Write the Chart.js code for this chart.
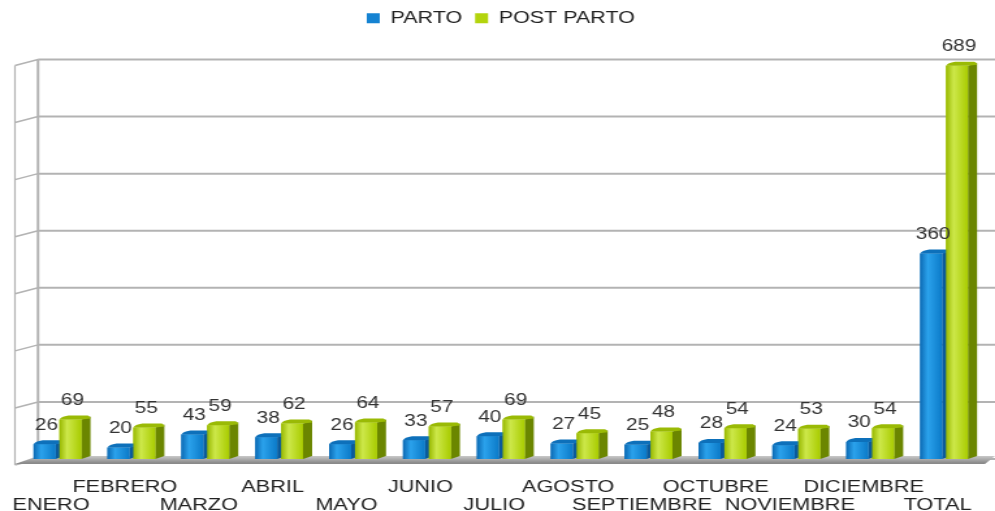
<!DOCTYPE html>
<html lang="es">
<head>
  <meta charset="UTF-8">
  <title>Parto y Post Parto</title>
  <script src="https://cdn.jsdelivr.net/npm/chart.js"></script>
  <style>
    html, body { margin: 0; padding: 0; background: #ffffff; overflow: hidden; }
    /* el original esta estirado a lo ancho: se dibuja a 765px y se estira a 995px */
    #wrap { width: 765px; height: 511px; transform: scaleX(1.3007); transform-origin: 0 0; }
  </style>
</head>
<body>
  <div id="wrap"><canvas id="myChart" width="765" height="511"></canvas></div>

  <script>
    var meses = ['ENERO', 'FEBRERO', 'MARZO', 'ABRIL', 'MAYO', 'JUNIO', 'JULIO',
                 'AGOSTO', 'SEPTIEMBRE', 'OCTUBRE', 'NOVIEMBRE', 'DICIEMBRE', 'TOTAL'];
    var parto = [26, 20, 43, 38, 26, 33, 40, 27, 25, 28, 24, 30, 360];
    var postParto = [69, 55, 59, 62, 64, 57, 69, 45, 48, 54, 53, 54, 689];
    var lineasY = [0, 100, 200, 300, 400, 500, 600, 700];

    var fuente = "'Liberation Sans', Arial, sans-serif";

    // colores de cada serie: frente (degradado), lado y tapa
    var estilos = [
      { stops: ['#0b69b3', '#2ba2ec', '#0b7ac8'], lado: '#0a5a9b', tapa: '#0d70ba' },
      { stops: ['#98b800', '#cde84a', '#a9cc00'], lado: '#6b8600', tapa: '#9aba05' }
    ];
    var prof = 7, alto3d = 3;

    // pared izquierda, rejilla y suelo
    var fondo3d = {
      id: 'fondo3d',
      beforeDatasetsDraw: function(chart) {
        var ctx = chart.ctx, y = chart.scales.y, area = chart.chartArea;
        var gx = area.left + 13.4, wx = area.left - 4.3;
        var base = y.getPixelForValue(0), top = y.getPixelForValue(700);
        ctx.save();
        ctx.strokeStyle = '#b3b3b3';
        lineasY.forEach(function(v) {
          var py = y.getPixelForValue(v);
          ctx.lineWidth = 2;
          ctx.beginPath(); ctx.moveTo(gx, py); ctx.lineTo(chart.width, py); ctx.stroke();
          ctx.lineWidth = 1.5;
          ctx.beginPath(); ctx.moveTo(gx, py); ctx.lineTo(wx, py + 6); ctx.stroke();
        });
        ctx.lineWidth = 2;
        ctx.beginPath(); ctx.moveTo(gx, top); ctx.lineTo(gx, base); ctx.stroke();
        ctx.lineWidth = 1.2;
        ctx.beginPath(); ctx.moveTo(wx, top + 6); ctx.lineTo(wx, base + 6); ctx.stroke();

        // suelo
        var g = ctx.createLinearGradient(0, base - 4, 0, base + 4);
        g.addColorStop(0, '#d2d2d2');
        g.addColorStop(1, '#8a8a8a');
        ctx.fillStyle = g;
        ctx.beginPath();
        ctx.moveTo(wx, base + 5);
        ctx.lineTo(area.right + 3, base + 5);
        ctx.lineTo(chart.width, base - 3);
        ctx.lineTo(gx, base - 3);
        ctx.closePath();
        ctx.fill();
        ctx.restore();
      }
    };

    // barras con efecto 3D y etiquetas de valor
    var barras3d = {
      id: 'barras3d',
      afterDatasetsDraw: function(chart) {
        var ctx = chart.ctx;
        ctx.save();
        for (var i = 0; i < meses.length; i++) {
          for (var d = 0; d < 2; d++) {
            var el = chart.getDatasetMeta(d).data[i];
            var p = el.getProps(['x', 'y', 'base', 'width'], true);
            var l = p.x - p.width / 2, r = p.x + p.width / 2;
            var e = estilos[d];

            ctx.fillStyle = e.lado;
            ctx.beginPath();
            ctx.moveTo(r, p.y); ctx.lineTo(r + prof, p.y - alto3d);
            ctx.lineTo(r + prof, p.base - alto3d); ctx.lineTo(r, p.base);
            ctx.closePath(); ctx.fill();

            var g = ctx.createLinearGradient(l, 0, r, 0);
            g.addColorStop(0, e.stops[0]);
            g.addColorStop(0.35, e.stops[1]);
            g.addColorStop(1, e.stops[2]);
            ctx.fillStyle = g;
            ctx.fillRect(l, p.y, p.width, p.base - p.y);

            ctx.fillStyle = e.tapa;
            ctx.beginPath();
            ctx.moveTo(l, p.y); ctx.quadraticCurveTo(l + 1, p.y - alto3d, l + prof, p.y - alto3d - 1);
            ctx.lineTo(r + prof - 2, p.y - alto3d - 1);
            ctx.quadraticCurveTo(r + prof, p.y - alto3d, r + prof, p.y - alto3d + 2);
            ctx.lineTo(r, p.y);
            ctx.closePath(); ctx.fill();
          }
        }
        ctx.fillStyle = '#333333';
        ctx.font = '16px ' + fuente;
        ctx.textAlign = 'center';
        ctx.textBaseline = 'middle';
        [parto, postParto].forEach(function(serie, d) {
          chart.getDatasetMeta(d).data.forEach(function(el, i) {
            ctx.fillText(serie[i], el.x + 1.5, el.y - 19);
          });
        });
        ctx.restore();
      }
    };

    // espacio extra debajo de la leyenda
    var margenLeyenda = {
      id: 'margenLeyenda',
      beforeInit: function(chart) {
        var fit = chart.legend.fit;
        chart.legend.fit = function() {
          fit.bind(chart.legend)();
          this.height += 23;
        };
      }
    };

    var ctx = document.getElementById('myChart').getContext('2d');
    var myChart = new Chart(ctx, {
      type: 'bar',
      data: {
        labels: meses,
        datasets: [
          { label: 'PARTO', data: parto, backgroundColor: '#1583d2' },
          { label: 'POST PARTO', data: postParto, backgroundColor: '#b3d40c' }
        ]
      },
      options: {
        responsive: false,
        animation: false,
        categoryPercentage: 0.7,
        barPercentage: 0.85,
        layout: { padding: { left: 15.8, right: 10.8, top: 0, bottom: 0 } },
        plugins: {
          legend: {
            labels: {
              boxWidth: 10, boxHeight: 10, color: '#222', padding: 10,
              font: { family: fuente, size: 16.5 }
            }
          },
          tooltip: { enabled: false }
        },
        scales: {
          x: {
            grid: { display: false, drawTicks: false },
            border: { display: false },
            afterFit: function(scale) {
              scale.height = 52;
              scale.paddingLeft = 0;
              scale.paddingRight = 0;
            },
            ticks: {
              autoSkip: false, maxRotation: 0, padding: 19, labelOffset: -5,
              color: '#222',
              font: { family: fuente, size: 16.7, lineHeight: 1.08 },
              callback: function(v, i) {
                return i % 2 === 0 ? ['', meses[i]] : [meses[i], ''];
              }
            }
          },
          y: { display: false, min: 0, max: 700 }
        }
      },
      plugins: [margenLeyenda, fondo3d, barras3d]
    });
  </script>
</body>
</html>
